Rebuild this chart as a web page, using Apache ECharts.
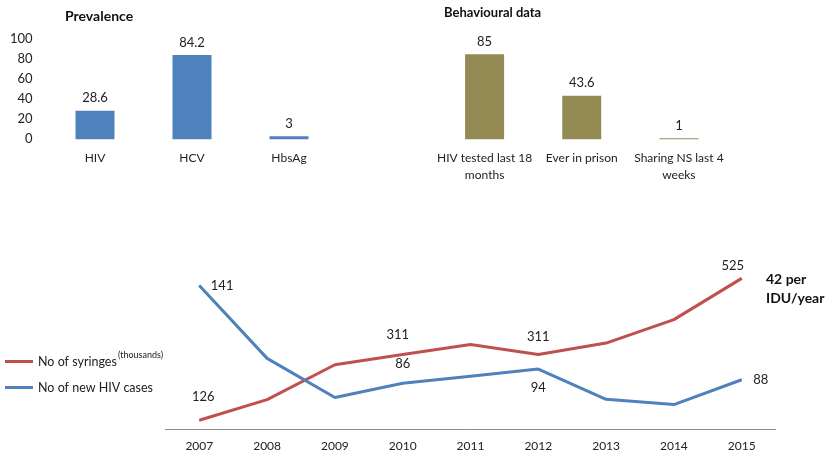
<!DOCTYPE html>
<html>
<head>
<meta charset="utf-8">
<script src="https://cdn.jsdelivr.net/npm/echarts@6/dist/echarts.min.js"></script>
<style>
  html, body { margin: 0; padding: 0; background: #fff; }
  #chart { width: 828px; height: 456px; }
</style>
</head>
<body>
<div id="chart"></div>
<script>
// data
var prevCats = ['HIV', 'HCV', 'HbsAg'];
var prevValues = [28.6, 84.2, 3];
var prevTicks = [0, 20, 40, 60, 80, 100];

var behavCats = ['HIV tested last 18\nmonths', 'Ever in prison', 'Sharing NS last 4\nweeks'];
var behavValues = [85, 43.6, 1];

var years = ['2007', '2008', '2009', '2010', '2011', '2012', '2013', '2014', '2015'];
var syringes = [126, 184, 282, 311, 339, 311, 343, 409, 525]; // thousands
var newHiv = [141, 100, 78, 86, 90, 94, 77, 74, 88];

var FONT = 'Lato';
var TXT = '#222';

// which points carry a value label, and where
var redLabels = { 0: [4, -16], 3: [-5, -13], 5: [0, -11], 8: [-9, -6] };
var blueLabels = { 0: 'right', 3: 'top', 5: 'bottom', 8: 'right' };

var myChart = echarts.init(document.getElementById('chart'));

function redData() {
    return syringes.map(function (v, i) {
        var o = redLabels[i];
        if (!o) return v;
        return { value: v, label: { show: true, position: 'top', distance: 0, offset: o } };
    });
}

function blueData() {
    return newHiv.map(function (v, i) {
        var p = blueLabels[i];
        if (!p) return v;
        return { value: v, label: { show: true, position: p, distance: p === 'right' ? 11 : 12 } };
    });
}

var catLabel = { color: TXT, fontFamily: FONT, fontSize: 12, lineHeight: 17, margin: 10, interval: 0 };

const option = {
    backgroundColor: '#fff',
    animation: false,
    textStyle: { fontFamily: FONT },
    title: [
        { text: 'Prevalence', left: 60, top: 4, textStyle: { fontFamily: FONT, fontSize: 14, fontWeight: 'bold', color: '#111' } },
        { text: 'Behavioural data', left: 439, top: 1, textStyle: { fontFamily: FONT, fontSize: 13, fontWeight: 'bold', color: '#111' } }
    ],
    legend: {
        orient: 'vertical',
        left: 0,
        top: 350,
        icon: 'rect',
        itemWidth: 28,
        itemHeight: 3,
        itemGap: 13,
        data: ['No of syringes', 'No of new HIV cases'],
        textStyle: { color: TXT, fontFamily: FONT, fontSize: 12.5 }
    },
    graphic: [
        { type: 'text', left: 118, top: 351, style: { text: '(thousands)', font: '9px Lato', fill: TXT } },
        { type: 'text', left: 766, top: 270, style: { text: '42 per\nIDU/year', font: 'bold 14px Lato', lineHeight: 19, fill: '#111' } }
    ],
    grid: [
        { left: 46.5, width: 291, top: 39.3, height: 100 },
        { left: 436, width: 291.5, top: 39.3, height: 100 },
        { left: 165.4, width: 610.2, top: 269.5, height: 160 }
    ],
    xAxis: [
        { type: 'category', gridIndex: 0, data: prevCats, axisLine: { show: false }, axisTick: { show: false }, axisLabel: catLabel },
        { type: 'category', gridIndex: 1, data: behavCats, axisLine: { show: false }, axisTick: { show: false }, axisLabel: catLabel },
        {
            type: 'category', gridIndex: 2, data: years,
            axisLine: { lineStyle: { color: '#8c8c8c', width: 1 } },
            axisTick: { show: false },
            axisLabel: { color: TXT, fontFamily: FONT, fontSize: 12, margin: 11 }
        }
    ],
    yAxis: [
        {
            type: 'value', gridIndex: 0, min: prevTicks[0], max: prevTicks[prevTicks.length - 1], interval: 20,
            splitLine: { show: false }, axisLine: { show: false }, axisTick: { show: false },
            axisLabel: { color: TXT, fontFamily: FONT, fontSize: 13, margin: 14 }
        },
        { type: 'value', gridIndex: 1, min: 0, max: 100, show: false, splitLine: { show: false } },
        { type: 'value', gridIndex: 2, min: 100, max: 550, show: false, splitLine: { show: false } },
        { type: 'value', gridIndex: 2, min: 60, max: 150, show: false, splitLine: { show: false } }
    ],
    series: [
        {
            type: 'bar', xAxisIndex: 0, yAxisIndex: 0, data: prevValues, barWidth: 39,
            itemStyle: { color: '#4f81bd' },
            label: { show: true, position: 'top', distance: 6, color: TXT, fontFamily: FONT, fontSize: 13 }
        },
        {
            type: 'bar', xAxisIndex: 1, yAxisIndex: 1, data: behavValues, barWidth: 39,
            itemStyle: { color: '#948a54' },
            label: { show: true, position: 'top', distance: 6, color: TXT, fontFamily: FONT, fontSize: 13 }
        },
        {
            name: 'No of syringes', type: 'line', xAxisIndex: 2, yAxisIndex: 2, data: redData(),
            symbol: 'circle', symbolSize: 1, showSymbol: true,
            lineStyle: { color: '#c0504d', width: 3 }, itemStyle: { color: '#c0504d' },
            label: { color: TXT, fontFamily: FONT, fontSize: 13 }
        },
        {
            name: 'No of new HIV cases', type: 'line', xAxisIndex: 2, yAxisIndex: 3, data: blueData(),
            symbol: 'circle', symbolSize: 1, showSymbol: true,
            lineStyle: { color: '#4f81bd', width: 3 }, itemStyle: { color: '#4f81bd' },
            label: { color: TXT, fontFamily: FONT, fontSize: 13 }
        }
    ]
};

myChart.setOption(option);
</script>
</body>
</html>
